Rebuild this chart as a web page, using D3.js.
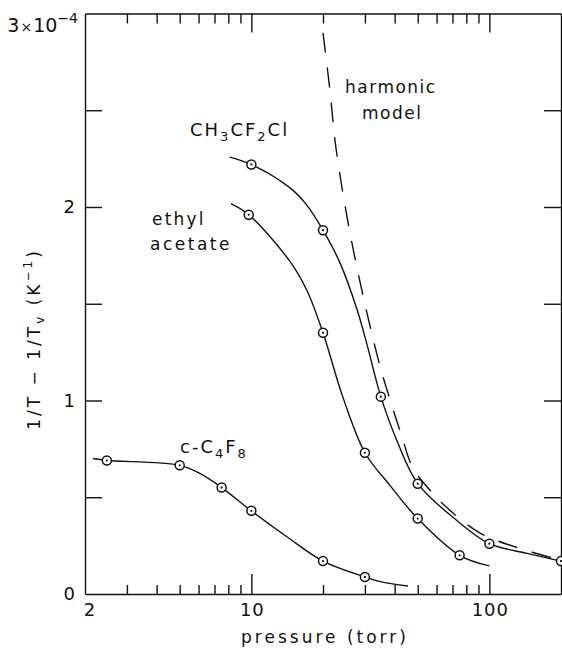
<!DOCTYPE html>
<html lang="en">
<head>
  <meta charset="UTF-8">
  <title>1/T - 1/Tv vs pressure</title>
  <script src="https://d3js.org/d3.v7.min.js"></script>
  <style type="text/css">
    body { margin: 0; background: #fff; }
    text { font-family: "DejaVu Sans", sans-serif; fill: #111; }
    .axis path, .axis line { stroke: #111; stroke-width: 1.4; }
    .curve { fill: none; stroke: #111; stroke-width: 1.4; }
    .harmonic { fill: none; stroke: #111; stroke-width: 1.4; stroke-dasharray: 20 15; }
    .pt { fill: #fff; stroke: #111; stroke-width: 1.5; }
    .ptdot { fill: #111; }
  </style>
</head>
<body>
<script>

  // measured points (pressure in torr, value in 1e-4 K^-1)
  var ch3P = [10, 20, 35, 50, 100, 200];
  var ch3V = [2.22, 1.88, 1.02, 0.57, 0.26, 0.17];
  var ethP = [9.75, 20, 30, 50, 75];
  var ethV = [1.96, 1.35, 0.73, 0.39, 0.20];
  var c4P = [2.47, 5, 7.5, 10, 20, 30];
  var c4V = [0.69, 0.665, 0.55, 0.43, 0.17, 0.088];

  // the drawn curves
  var ch3CurveP = [8.1, 10, 14.5, 17.1, 20, 23.6, 27.8, 30.6, 35, 40.8, 50, 73, 100, 144, 200];
  var ch3CurveV = [2.258, 2.22, 2.10, 2.01, 1.88, 1.71, 1.47, 1.29, 1.02, 0.795, 0.57, 0.38, 0.26, 0.21, 0.17];
  var ethCurveP = [8.2, 9.75, 14.5, 17.1, 20, 24.2, 30, 38.3, 50, 75, 100];
  var ethCurveV = [2.017, 1.96, 1.72, 1.57, 1.35, 1.02, 0.73, 0.56, 0.39, 0.20, 0.145];
  var c4CurveP = [2.16, 2.47, 5, 6.08, 7.5, 10, 14.1, 20, 30, 34.8, 45.5];
  var c4CurveV = [0.70, 0.69, 0.665, 0.623, 0.55, 0.43, 0.296, 0.17, 0.088, 0.064, 0.041];
  // harmonic model (dashed)
  var harmP = [20, 21.4, 22.7, 26.7, 34, 37.9, 42.5, 47.8, 56.9, 63.2, 91.4, 148, 200];
  var harmV = [2.90, 2.60, 2.30, 1.79, 1.22, 1.02, 0.83, 0.65, 0.53, 0.47, 0.315, 0.22, 0.175];

  // ticks
  var xMinor = [3, 4, 5, 6, 7, 8, 9, 20, 30, 40, 50, 60, 70, 80, 90];
  var xMajor = [10, 100];
  var xLabels = [2, 10, 100];
  var yTicks = [0.5, 1, 1.5, 2, 2.5];
  var yLabels = [0, 1, 2];

  var margin = {top: 13.5, right: 1, bottom: 55, left: 85}
    , width = 562 - margin.left - margin.right
    , height = 594 - margin.top;

  var x = d3.scaleLog().domain([2, 200]).range([0, width]);
  var y = d3.scaleLinear().domain([0, 3]).range([height, 0]);

  var svg = d3.select("body").append("svg")
    .attr("width", 562)
    .attr("height", 649)
    .append("g")
    .attr("transform", "translate(" + margin.left + "," + margin.top + ")");

  function noDomain(g) { g.select(".domain").remove(); }

  // frame + ticks, all pointing inwards
  svg.append("g").attr("class", "axis").attr("transform", "translate(0," + height + ")")
    .call(d3.axisBottom(x).tickValues(xMinor).tickSizeInner(-9).tickSizeOuter(0).tickFormat(""));
  svg.append("g").attr("class", "axis").attr("transform", "translate(0," + height + ")")
    .call(d3.axisBottom(x).tickValues(xMajor).tickSizeInner(-20).tickSizeOuter(0).tickFormat(""))
    .call(noDomain);
  svg.append("g").attr("class", "axis")
    .call(d3.axisTop(x).tickValues(xMinor).tickSizeInner(-10).tickSizeOuter(0).tickFormat(""));
  svg.append("g").attr("class", "axis")
    .call(d3.axisTop(x).tickValues(xMajor).tickSizeInner(-19).tickSizeOuter(0).tickFormat(""))
    .call(noDomain);
  svg.append("g").attr("class", "axis")
    .call(d3.axisLeft(y).tickValues(yTicks).tickSizeInner(-17).tickSizeOuter(0).tickFormat(""));
  svg.append("g").attr("class", "axis").attr("transform", "translate(" + width + ",0)")
    .call(d3.axisRight(y).tickValues(yTicks).tickSizeInner(-17).tickSizeOuter(0).tickFormat(""));

  // tick labels
  svg.selectAll(".xlab").data(xLabels).enter().append("text")
    .attr("class", "xlab")
    .attr("x", function(d) { return x(d) + (d === 2 ? 5 : 1); })
    .attr("y", height + 22)
    .attr("text-anchor", "middle")
    .attr("font-size", 18)
    .attr("letter-spacing", 1)
    .text(function(d) { return d; });

  svg.selectAll(".ylab").data(yLabels).enter().append("text")
    .attr("class", "ylab")
    .attr("x", -10)
    .attr("y", function(d) { return y(d); })
    .attr("dy", "0.35em")
    .attr("text-anchor", "end")
    .attr("font-size", 18)
    .text(function(d) { return d; });

  var topLab = svg.append("text")
    .attr("x", -7).attr("y", y(3) + 18)
    .attr("text-anchor", "end")
    .attr("font-size", 19);
  topLab.append("tspan").text("3");
  topLab.append("tspan").attr("font-size", 14).attr("dx", 1).text("×");
  topLab.append("tspan").attr("dx", 1).text("10");
  topLab.append("tspan").attr("font-size", 14).attr("dy", -9).text("−4");

  // axis titles
  svg.append("text")
    .attr("x", width / 2 + 2)
    .attr("y", height + 49)
    .attr("text-anchor", "middle")
    .attr("font-size", 17)
    .attr("letter-spacing", 3)
    .text("pressure (torr)");

  var yt = svg.append("text")
    .attr("transform", "translate(-45," + (339 - margin.top) + ") rotate(-90)")
    .attr("text-anchor", "middle")
    .attr("font-size", 17)
    .attr("letter-spacing", 3);
  yt.append("tspan").text("1/T − 1/T");
  yt.append("tspan").attr("font-size", 12).attr("dy", 4).text("v");
  yt.append("tspan").attr("dy", -4).text("  (K");
  yt.append("tspan").attr("font-size", 12).attr("dy", -8).text("−1");
  yt.append("tspan").attr("dy", 8).text(")");

  // curves
  var line = d3.line()
    .x(function(d) { return x(d[0]); })
    .y(function(d) { return y(d[1]); })
    .curve(d3.curveCatmullRom.alpha(0.5));

  function pairs(p, v) { return p.map(function(d, i) { return [d, v[i]]; }); }

  [[ch3CurveP, ch3CurveV], [ethCurveP, ethCurveV], [c4CurveP, c4CurveV]].forEach(function(c) {
    svg.append("path").datum(pairs(c[0], c[1])).attr("class", "curve").attr("d", line);
  });
  svg.append("path").datum(pairs(harmP, harmV)).attr("class", "harmonic").attr("d", line);

  // measured points: open circle with centre dot
  [[ch3P, ch3V], [ethP, ethV], [c4P, c4V]].forEach(function(s) {
    var pts = pairs(s[0], s[1]);
    svg.selectAll(null).data(pts).enter().append("circle")
      .attr("class", "pt")
      .attr("cx", function(d) { return x(d[0]); })
      .attr("cy", function(d) { return y(d[1]); })
      .attr("r", 4.5);
    svg.selectAll(null).data(pts).enter().append("circle")
      .attr("class", "ptdot")
      .attr("cx", function(d) { return x(d[0]); })
      .attr("cy", function(d) { return y(d[1]); })
      .attr("r", 1.1);
  });

  // series labels (page coordinates minus margin)
  function label(px, py, size) {
    return svg.append("text")
      .attr("x", px - margin.left).attr("y", py - margin.top)
      .attr("font-size", size)
      .attr("letter-spacing", 2);
  }
  var l1 = label(190, 136, 18);
  l1.append("tspan").text("CH");
  l1.append("tspan").attr("font-size", 13).attr("dy", 5).text("3");
  l1.append("tspan").attr("dy", -5).text("CF");
  l1.append("tspan").attr("font-size", 13).attr("dy", 5).text("2");
  l1.append("tspan").attr("dy", -5).text("Cl");

  label(152, 225, 17).attr("letter-spacing", 2.2).text("ethyl");
  label(150, 250, 17).attr("letter-spacing", 2.5).text("acetate");
  label(345, 93, 17).attr("letter-spacing", 1.5).text("harmonic");
  label(362, 119, 17).attr("letter-spacing", 1.5).text("model");

  var l4 = label(180, 453, 18);
  l4.append("tspan").text("c-C");
  l4.append("tspan").attr("font-size", 13).attr("dy", 5).text("4");
  l4.append("tspan").attr("dy", -5).text("F");
  l4.append("tspan").attr("font-size", 13).attr("dy", 5).text("8");

</script>
</body>
</html>
